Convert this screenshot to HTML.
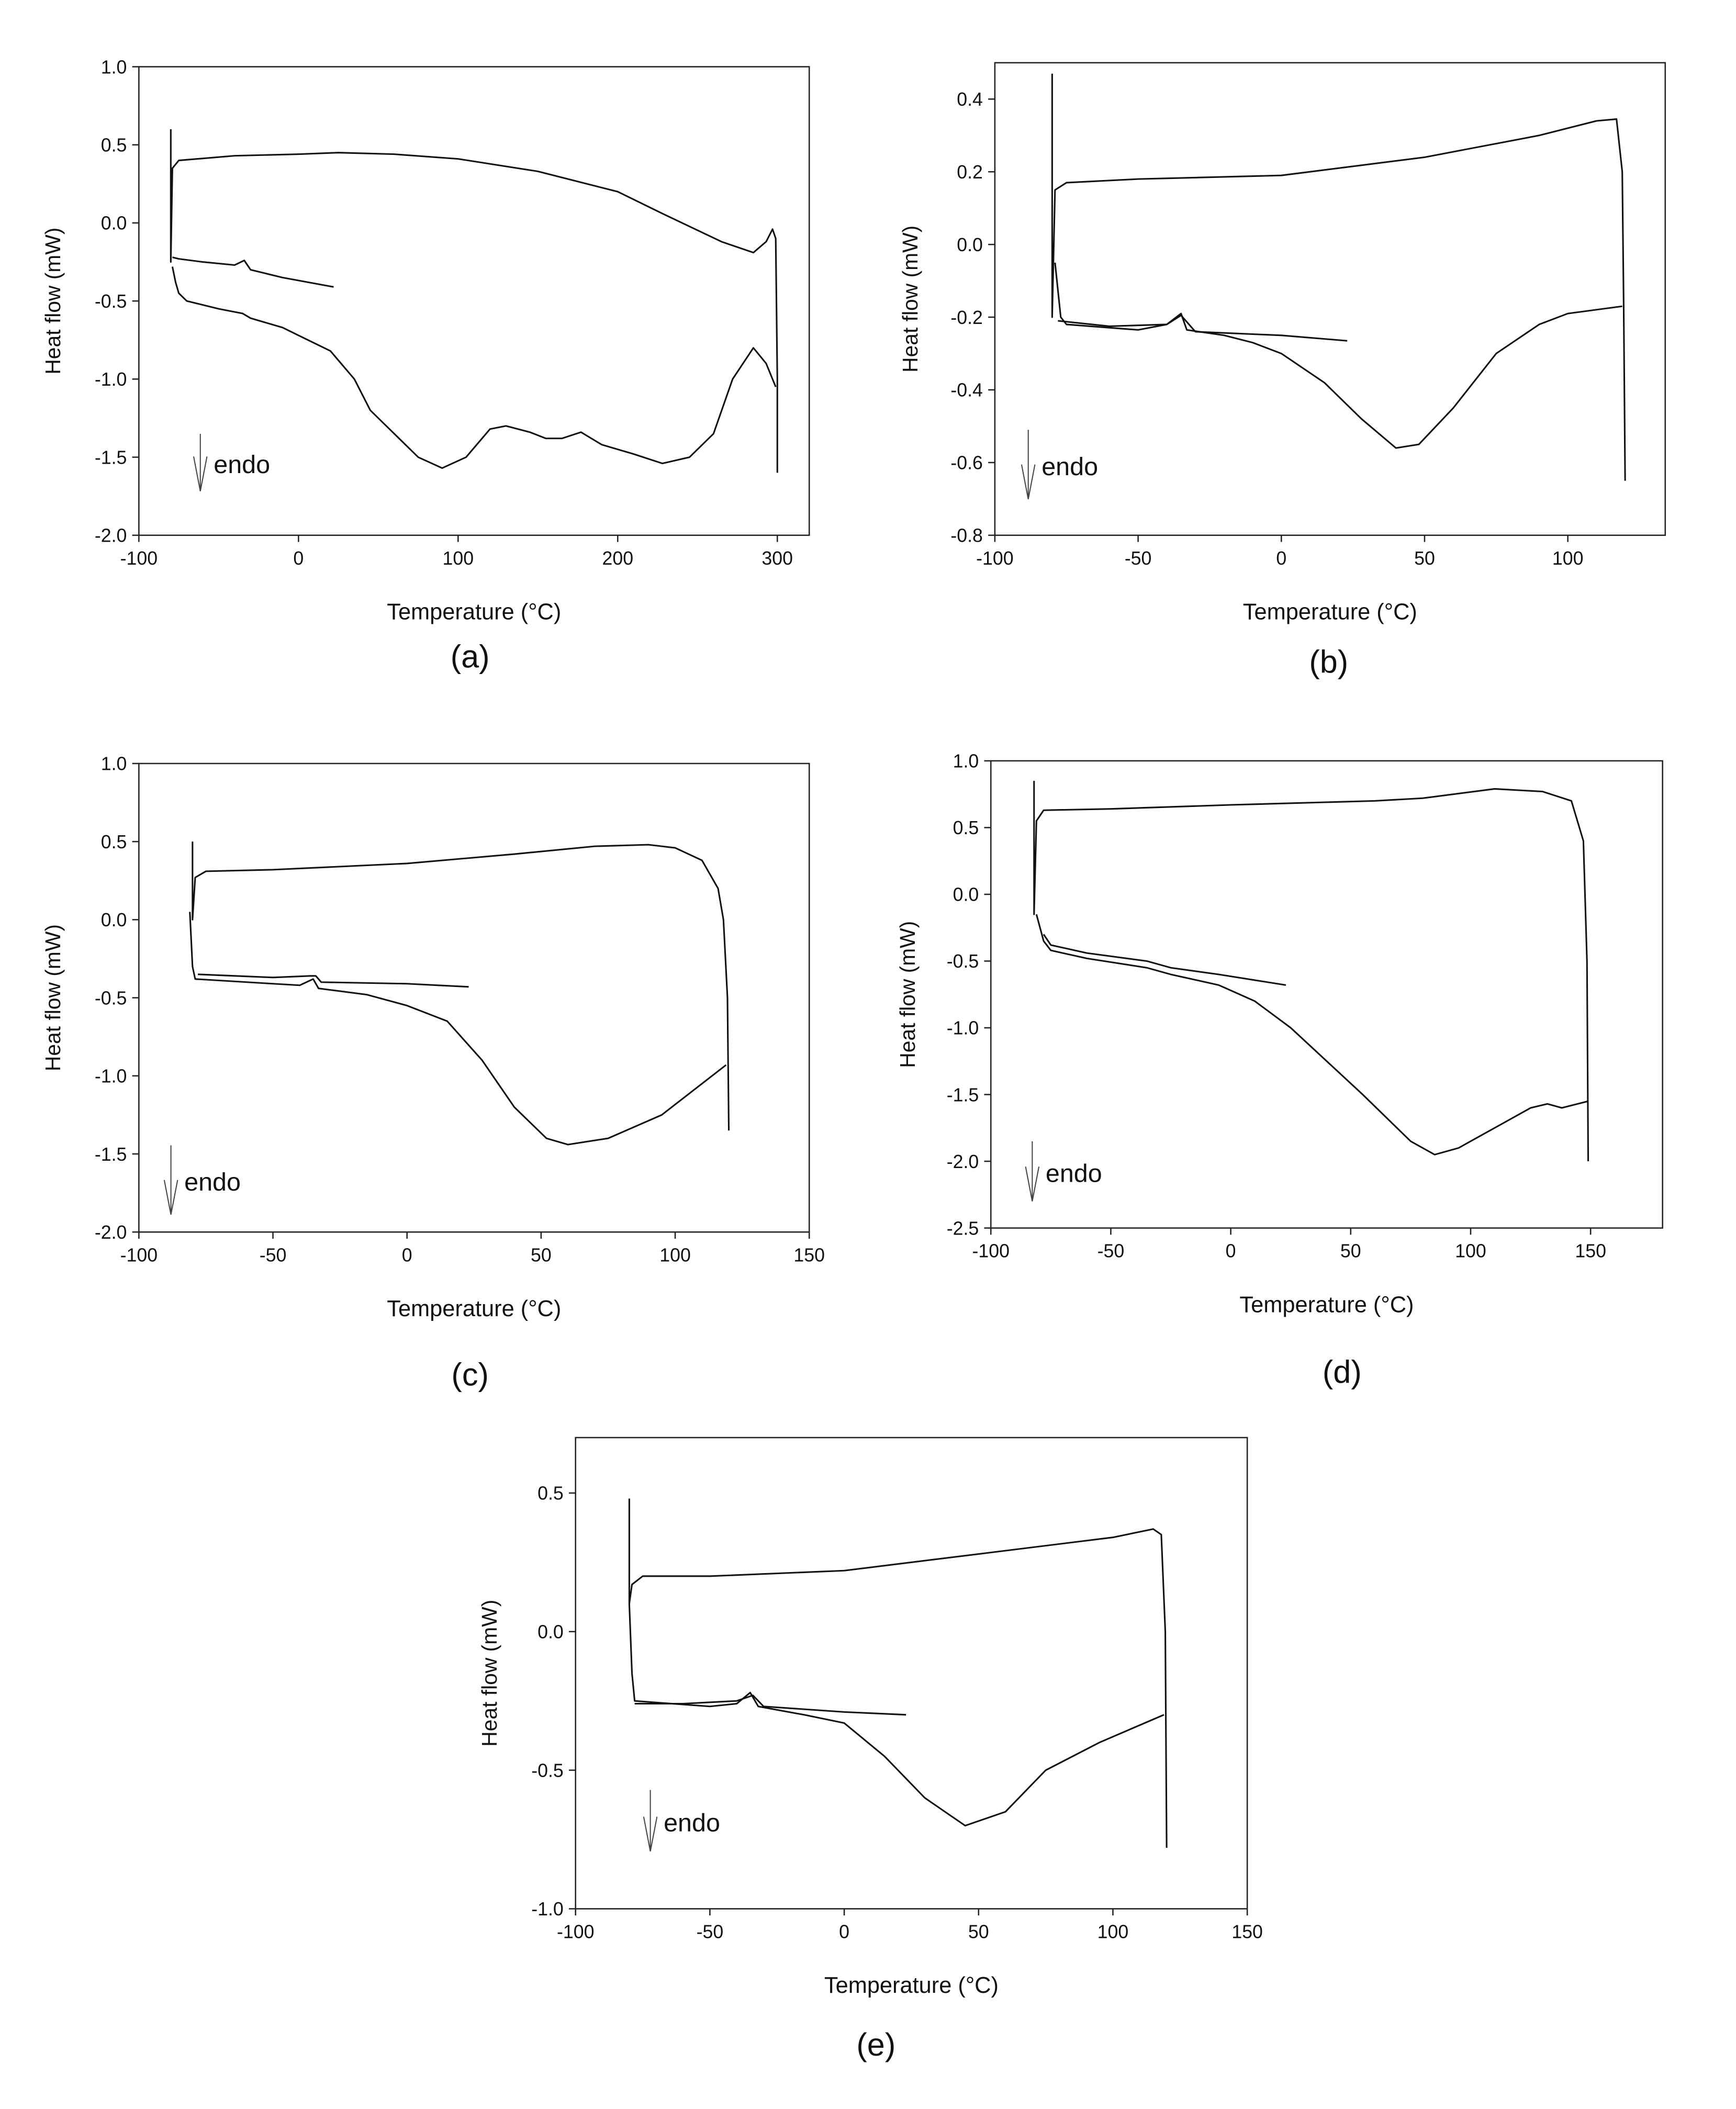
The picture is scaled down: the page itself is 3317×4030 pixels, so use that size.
<!DOCTYPE html>
<html><head><meta charset="utf-8"><style>
html,body{margin:0;padding:0;background:#fff;}
svg{display:block;}
text{font-family:"Liberation Sans",Arial,sans-serif;fill:#111;}
</style></head><body>
<svg id="fig" width="3317" height="4030" viewBox="0 0 1300 1580" preserveAspectRatio="none" xmlns="http://www.w3.org/2000/svg">
<rect x="0" y="0" width="1300" height="1580" fill="#fff"/>
</svg>
<script>
// Panel (a)
const aXTicks=[-100,0,100,200,300];
const aYTicks=[1.0,0.5,0.0,-0.5,-1.0,-1.5,-2.0];
const aCoolX=[-80,-80,-79,-75,-40,0,25,60,100,150,200,230,265,285,293,297,299,300,300];
const aCoolY=[0.6,-0.25,0.35,0.4,0.43,0.44,0.45,0.44,0.41,0.33,0.2,0.05,-0.12,-0.19,-0.12,-0.04,-0.1,-1.0,-1.6];
const aHeatX=[-79,-77,-75,-70,-50,-35,-30,-10,0,20,35,45,60,75,90,105,120,130,145,155,165,177,190,210,228,245,260,272,285,293,299];
const aHeatY=[-0.28,-0.38,-0.45,-0.5,-0.55,-0.58,-0.61,-0.67,-0.72,-0.82,-1.0,-1.2,-1.35,-1.5,-1.57,-1.5,-1.32,-1.3,-1.34,-1.38,-1.38,-1.34,-1.42,-1.48,-1.54,-1.5,-1.35,-1.0,-0.8,-0.9,-1.05];
const aStartX=[-79,-75,-60,-40,-34,-30,-10,22];
const aStartY=[-0.22,-0.23,-0.25,-0.27,-0.24,-0.3,-0.35,-0.41];
// Panel (b)
const bXTicks=[-100,-50,0,50,100];
const bYTicks=[0.4,0.2,0.0,-0.2,-0.4,-0.6,-0.8];
const bCoolX=[-80,-80,-79,-75,-50,0,50,90,110,117,119,119.5,120];
const bCoolY=[0.47,-0.2,0.15,0.17,0.18,0.19,0.24,0.3,0.34,0.345,0.2,-0.17,-0.65];
const bHeatX=[-79,-77,-75,-50,-40,-35,-33,-20,-10,0,15,28,40,48,60,75,90,100,119];
const bHeatY=[-0.05,-0.2,-0.22,-0.235,-0.22,-0.19,-0.235,-0.25,-0.27,-0.3,-0.38,-0.48,-0.56,-0.55,-0.45,-0.3,-0.22,-0.19,-0.17];
const bStartX=[-78,-60,-40,-35,-30,0,23];
const bStartY=[-0.21,-0.225,-0.22,-0.195,-0.24,-0.25,-0.265];
// Panel (c)
const cXTicks=[-100,-50,0,50,100,150];
const cYTicks=[1.0,0.5,0.0,-0.5,-1.0,-1.5,-2.0];
const cCoolX=[-80,-80,-79,-75,-50,0,40,70,90,100,110,116,118,119.5,120];
const cCoolY=[0.5,0.0,0.27,0.31,0.32,0.36,0.42,0.47,0.48,0.46,0.38,0.2,0.0,-0.5,-1.35];
const cHeatX=[-81,-80,-79,-50,-40,-35,-33,-15,0,15,28,40,52,60,75,95,119];
const cHeatY=[0.05,-0.3,-0.38,-0.41,-0.42,-0.38,-0.44,-0.48,-0.55,-0.65,-0.9,-1.2,-1.4,-1.44,-1.4,-1.25,-0.93];
const cStartX=[-78,-50,-36,-34,-32,0,23];
const cStartY=[-0.35,-0.37,-0.36,-0.36,-0.4,-0.41,-0.43];
// Panel (d)
const dXTicks=[-100,-50,0,50,100,150];
const dYTicks=[1.0,0.5,0.0,-0.5,-1.0,-1.5,-2.0,-2.5];
const dCoolX=[-82,-82,-81,-78,-50,0,60,80,110,130,142,147,148.5,149];
const dCoolY=[0.85,-0.15,0.55,0.63,0.64,0.67,0.7,0.72,0.79,0.77,0.7,0.4,-0.5,-2.0];
const dHeatX=[-81,-78,-75,-60,-35,-25,-5,10,25,55,75,85,95,110,125,132,138,149];
const dHeatY=[-0.15,-0.35,-0.42,-0.48,-0.55,-0.6,-0.68,-0.8,-1.0,-1.5,-1.85,-1.95,-1.9,-1.75,-1.6,-1.57,-1.6,-1.55];
const dStartX=[-78,-75,-60,-35,-25,-5,23];
const dStartY=[-0.3,-0.38,-0.44,-0.5,-0.55,-0.6,-0.68];
// Panel (e)
const eXTicks=[-100,-50,0,50,100,150];
const eYTicks=[0.5,0.0,-0.5,-1.0];
const eCoolX=[-80,-80,-79,-75,-50,0,50,100,115,118,119.5,120];
const eCoolY=[0.48,0.1,0.17,0.2,0.2,0.22,0.28,0.34,0.37,0.35,0.0,-0.78];
const eHeatX=[-80,-79,-78,-50,-40,-35,-32,-15,0,15,30,45,60,75,95,119];
const eHeatY=[0.1,-0.15,-0.25,-0.27,-0.26,-0.22,-0.27,-0.3,-0.33,-0.45,-0.6,-0.7,-0.65,-0.5,-0.4,-0.3];
const eStartX=[-78,-60,-40,-34,-30,0,23];
const eStartY=[-0.26,-0.26,-0.25,-0.23,-0.27,-0.29,-0.3];

const NS="http://www.w3.org/2000/svg";
const svg=document.getElementById('fig');
function mk(tag,attrs,parent){const e=document.createElementNS(NS,tag);for(const k in attrs)e.setAttribute(k,attrs[k]);(parent||svg).appendChild(e);return e;}

function panel(p){
  const g=mk('g',{});
  
  
  const sx=v=>p.x0+(v-p.xmin)/(p.xmax-p.xmin)*(p.x1-p.x0);
  const sy=v=>p.y0+(p.ymax-v)/(p.ymax-p.ymin)*(p.y1-p.y0);
  const box=mk('rect',{x:p.x0,y:p.y0,width:p.x1-p.x0,height:p.y1-p.y0,fill:'none',stroke:'#222','stroke-width':1},g);
  
  
  p.xt.forEach(v=>{
    const x=sx(v);
    mk('line',{x1:x,y1:p.y1,x2:x,y2:p.y1+5,stroke:'#222','stroke-width':1},g);
    const t=mk('text',{x:x,y:p.y1+22,'font-size':14,'text-anchor':'middle'},g);
    t.textContent=String(v);
    
    
  });
  p.yt.forEach(v=>{
    const y=sy(v);
    mk('line',{x1:p.x0-5,y1:y,x2:p.x0,y2:y,stroke:'#222','stroke-width':1},g);
    const t=mk('text',{x:p.x0-9,y:y+5,'font-size':14,'text-anchor':'end'},g);
    t.textContent=v.toFixed(1);
    
    
  });
  const xt=mk('text',{x:(p.x0+p.x1)/2,y:p.y1+63,'font-size':17,'text-anchor':'middle'},g);
  xt.textContent='Temperature (°C)';
  
  
  const yc=(p.y0+p.y1)/2;
  const yt=mk('text',{x:p.ytx,y:yc,'font-size':16,'text-anchor':'middle',transform:'rotate(-90 '+p.ytx+' '+yc+')'},g);
  yt.textContent='Heat flow (mW)';
  
  
  const lab=mk('text',{x:p.lx,y:p.ly,'font-size':24,'text-anchor':'middle'},g);
  lab.textContent='('+p.id+')';
  
  
  // endo arrow
  const ax=p.ex, ay0=p.ey0, ay1=p.ey1;
  const ar=mk('path',{d:'M'+ax+' '+ay0+' L'+ax+' '+ay1+' M'+(ax-5)+' '+(ay1-26)+' L'+ax+' '+ay1+' L'+(ax+5)+' '+(ay1-26),fill:'none',stroke:'#444','stroke-width':0.8},g);
  
  
  const et=mk('text',{x:ax+10,y:(ay0+ay1)/2+8,'font-size':19},g);
  et.textContent='endo';
  
  
  p.series.forEach(s=>{
    const pts=s.x.map((v,i)=>sx(v).toFixed(2)+','+sy(s.y[i]).toFixed(2)).join(' ');
    const pl=mk('polyline',{points:pts,fill:'none',stroke:'#111','stroke-width':1.2,'stroke-linejoin':'round'},g);
    
    
  });
}

panel({id:'a',x0:104,x1:606,y0:50,y1:401,xmin:-100,xmax:320,ymin:-2,ymax:1,xt:aXTicks,yt:aYTicks,ytx:45,lx:352,ly:500,ex:150,ey0:325,ey1:368,
  series:[{name:'cooling-curve',x:aCoolX,y:aCoolY},{name:'heating-curve',x:aHeatX,y:aHeatY},{name:'initial-cooling-curve',x:aStartX,y:aStartY}]});
panel({id:'b',x0:745,x1:1247,y0:47,y1:401,xmin:-100,xmax:134,ymin:-0.8,ymax:0.5,xt:bXTicks,yt:bYTicks,ytx:687,lx:995,ly:504,ex:770,ey0:322,ey1:374,
  series:[{name:'cooling-curve',x:bCoolX,y:bCoolY},{name:'heating-curve',x:bHeatX,y:bHeatY},{name:'initial-cooling-curve',x:bStartX,y:bStartY}]});
panel({id:'c',x0:104,x1:606,y0:572,y1:923,xmin:-100,xmax:150,ymin:-2,ymax:1,xt:cXTicks,yt:cYTicks,ytx:45,lx:352,ly:1038,ex:128,ey0:858,ey1:910,
  series:[{name:'cooling-curve',x:cCoolX,y:cCoolY},{name:'heating-curve',x:cHeatX,y:cHeatY},{name:'initial-cooling-curve',x:cStartX,y:cStartY}]});
panel({id:'d',x0:742,x1:1245,y0:570,y1:920,xmin:-100,xmax:180,ymin:-2.5,ymax:1,xt:dXTicks,yt:dYTicks,ytx:685,lx:1005,ly:1036,ex:773,ey0:855,ey1:900,
  series:[{name:'cooling-curve',x:dCoolX,y:dCoolY},{name:'heating-curve',x:dHeatX,y:dHeatY},{name:'initial-cooling-curve',x:dStartX,y:dStartY}]});
panel({id:'e',x0:431,x1:934,y0:1077,y1:1430,xmin:-100,xmax:150,ymin:-1,ymax:0.7,xt:eXTicks,yt:eYTicks,ytx:372,lx:656,ly:1540,ex:487,ey0:1341,ey1:1387,
  series:[{name:'cooling-curve',x:eCoolX,y:eCoolY},{name:'heating-curve',x:eHeatX,y:eHeatY},{name:'initial-cooling-curve',x:eStartX,y:eStartY}]});
</script>
</body></html>
